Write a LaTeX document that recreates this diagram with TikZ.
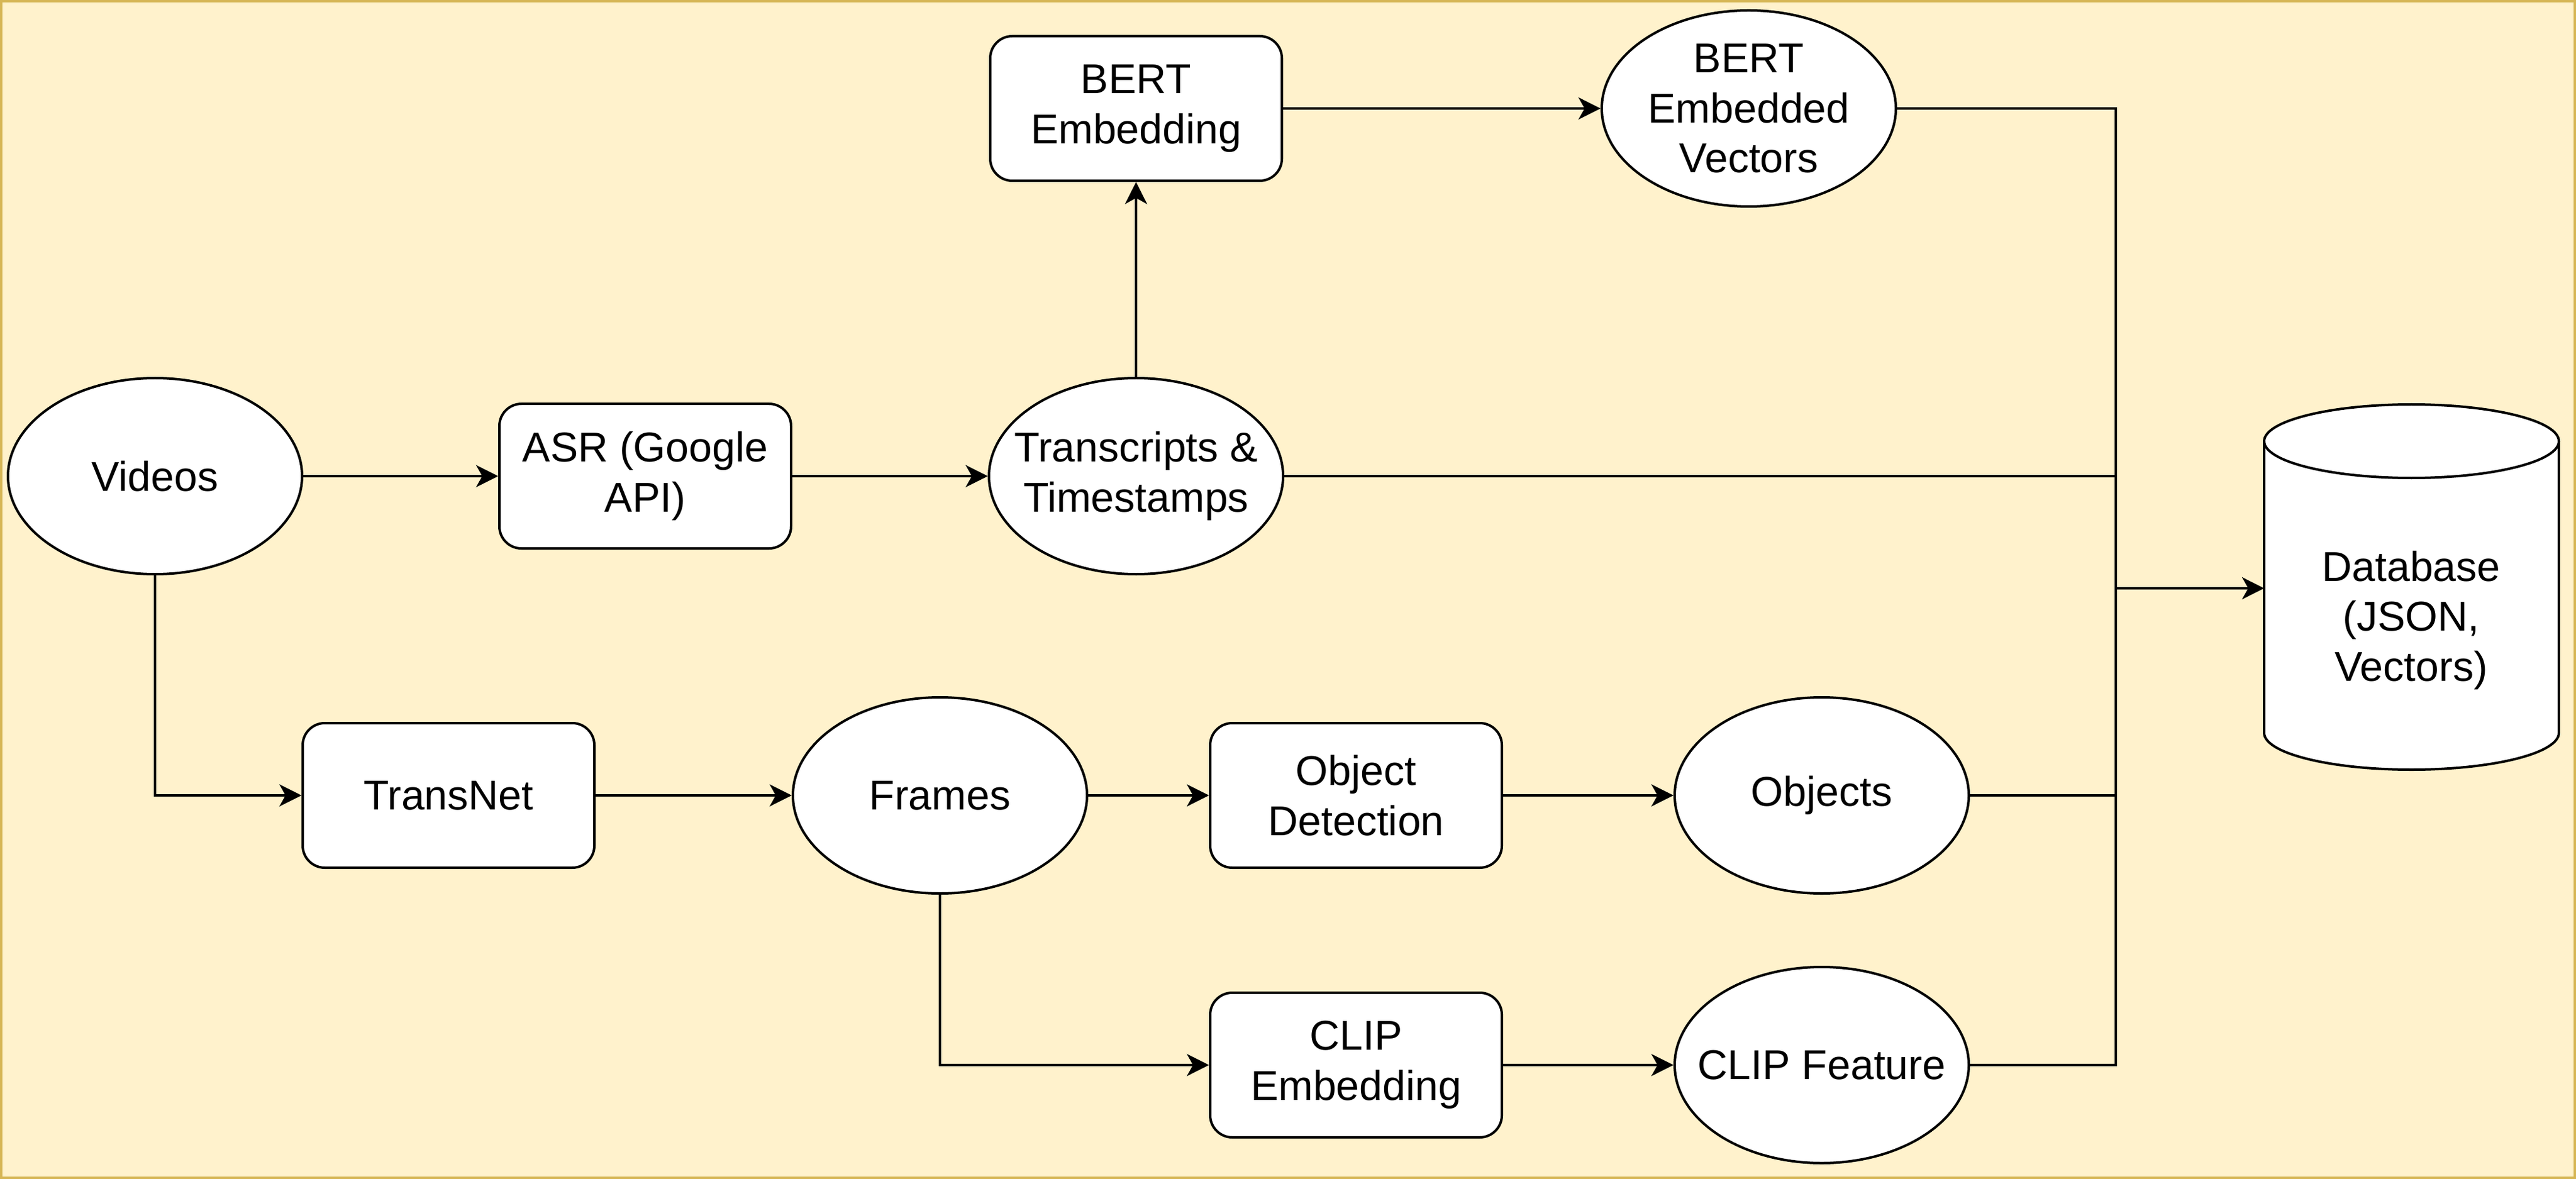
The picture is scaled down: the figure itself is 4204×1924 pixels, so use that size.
\documentclass[tikz,border=0pt]{standalone}
\usepackage{fontspec}
\setmainfont{Liberation Sans}
\usetikzlibrary{arrows.meta,shapes.geometric}
\definecolor{bgfill}{HTML}{FFF2CC}
\definecolor{bgline}{HTML}{D6B656}
\begin{document}
\begin{tikzpicture}[x=0.25pt,y=-0.25pt,
  every node/.style={font=\fontsize{17pt}{20.4pt}\selectfont, align=center, inner sep=0pt},
  proc/.style={draw=black, fill=white, line width=1pt, rounded corners=9pt, minimum width=119pt, minimum height=59pt},
  data/.style={draw=black, fill=white, line width=1pt, ellipse, minimum width=120pt, minimum height=80pt, label={center:#1}},
  conn/.style={draw=black, line width=1pt, -{Stealth[length=9pt,width=9pt,inset=2.5pt]}},
  plain/.style={draw=black, line width=1pt}]
\useasboundingbox (0,0) rectangle (4204,1924);
\draw[fill=bgfill, draw=bgline, line width=1pt] (2,2) rectangle (4202,1922);

\node[data={Videos}] (videos) at (253,777) {};
\node[proc] (asr) at (1053,777) {ASR (Google\\API)};
\node[data={Transcripts \&\\Timestamps}] (trans) at (1854,777) {};
\node[proc] (bert) at (1854,177) {BERT\\Embedding};
\node[data={BERT\\Embedded\\Vectors}] (bvec) at (2854,177) {};
\node[proc] (transnet) at (732,1298) {TransNet};
\node[data={Frames}] (frames) at (1534,1298) {};
\node[proc] (objdet) at (2213,1298) {Object\\Detection};
\node[data={Objects}] (objects) at (2973,1298) {};
\node[proc] (clipemb) at (2213,1738) {CLIP\\Embedding};
\node[data={CLIP Feature}] (clipfeat) at (2973,1738) {};

% database cylinder
\coordinate (dbw) at (3695,960);
\filldraw[fill=white, draw=black, line width=1pt]
  (3695,720) -- (3695,1196) arc[start angle=180, end angle=0, x radius=240.5, y radius=60]
  -- (4176,720) arc[start angle=0, end angle=-180, x radius=240.5, y radius=60] -- cycle;
\draw[line width=1pt] (3695,720) arc[start angle=180, end angle=0, x radius=240.5, y radius=60];
\node (db) at (3935,1012) {Database\\(JSON,\\Vectors)};
\coordinate (mx) at (3453,960);

\draw[conn] (videos) -- (asr);
\draw[conn] (asr) -- (trans);
\draw[conn] (trans) -- (bert);
\draw[conn] (bert) -- (bvec);
\draw[conn] (videos.south) |- (transnet.west);
\draw[conn] (transnet) -- (frames);
\draw[conn] (frames) -- (objdet);
\draw[conn] (objdet) -- (objects);
\draw[conn] (frames.south) |- (clipemb.west);
\draw[conn] (clipemb) -- (clipfeat);

\draw[plain] (bvec.east) -| (mx);
\draw[plain] (trans.east) -| (mx);
\draw[plain] (objects.east) -| (mx);
\draw[plain] (clipfeat.east) -| (mx);
\draw[conn] (mx) -- (dbw);
\end{tikzpicture}
\end{document}
